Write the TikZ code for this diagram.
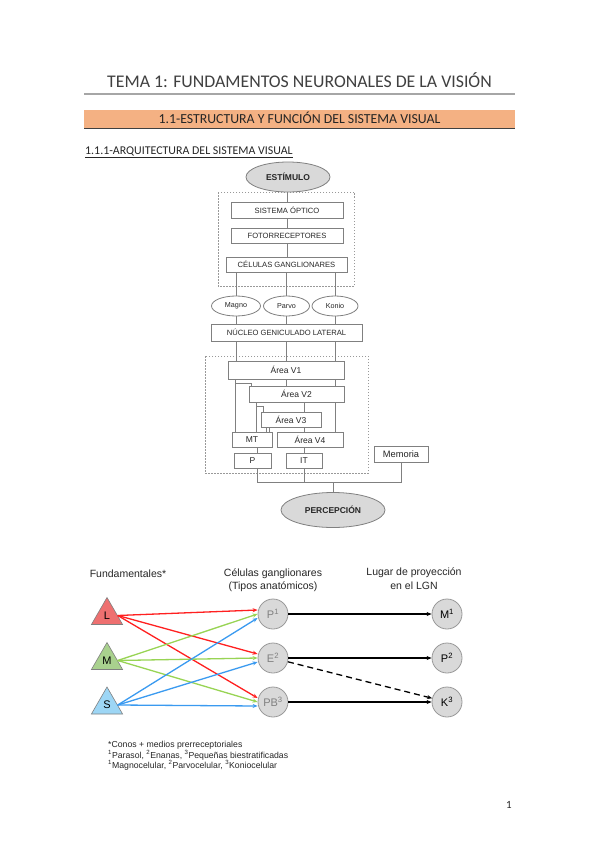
\documentclass[tikz,border=0pt]{standalone}
\usepackage{fontspec}
\setmainfont{Carlito}
\newfontfamily\arialfont{Liberation Sans}
\usepackage{tikz}
\usetikzlibrary{arrows.meta,positioning,shapes.geometric}
\definecolor{titlegray}{HTML}{404040}
\definecolor{rulegray}{HTML}{A6A6A6}
\definecolor{headorange}{HTML}{F4B183}
\definecolor{boxgray}{HTML}{808080}
\definecolor{ovalfill}{HTML}{D9D9D9}
\definecolor{inkgray}{HTML}{262626}
\definecolor{conered}{HTML}{FF2020}
\definecolor{conegreen}{HTML}{98D454}
\definecolor{coneblue}{HTML}{3A9AF0}
\definecolor{redfill}{HTML}{EE7070}
\definecolor{greenfill}{HTML}{A9D18E}
\definecolor{bluefill}{HTML}{9DD6F5}
\tikzset{stage/.style={rectangle,draw=boxgray,fill=white,line width=.8pt,
 inner sep=1pt,text=inkgray,font=\arialfont\fontsize{7.6}{8}\selectfont},
 area/.style={stage,font=\arialfont\fontsize{8.5}{10}\selectfont},
 pathway/.style={ellipse,draw=boxgray,fill=white,line width=.8pt,
 inner sep=0pt,minimum height=20pt,text=inkgray,font=\arialfont\fontsize{7.2}{8}\selectfont},
 endpoint/.style={ellipse,draw=boxgray,fill=ovalfill,line width=.8pt,
 inner sep=0pt,text=inkgray,font=\arialfont\bfseries\fontsize{8.5}{10}\selectfont},
 link/.style={draw=boxgray,line width=.7pt},
 region/.style={draw=boxgray!80,line width=.8pt,dash pattern=on 1.5pt off 1.5pt},
 cone/.style={regular polygon,regular polygon sides=3,minimum size=36pt,
 inner sep=0pt,draw=boxgray,line width=.6pt,text=black,font=\arialfont\fontsize{11}{12}\selectfont},
 cell/.style={circle,draw=boxgray!80,fill=ovalfill,line width=.8pt,minimum size=30pt,
 inner sep=0pt,text=boxgray,font=\arialfont\fontsize{11}{12}\selectfont},
 target/.style={cell,text=black},
 feed/.style={line width=1.3pt,-{Stealth[length=5pt,width=4pt]}},
 proj/.style={line width=1.3pt,black,-{Stealth[length=5pt,width=4pt]}},
 label/.style={text=inkgray,align=center,font=\arialfont\fontsize{10.5}{13.5}\selectfont}}

\begin{document}
\begin{tikzpicture}[x=1pt,y=-1pt]
 \useasboundingbox[fill=white] (0,0) rectangle (599,848);
 % page header
 \node[anchor=base,text=titlegray,font=\fontsize{17.8}{20}\selectfont] (title) at (299.5,88)
  {TEMA 1: FUNDAMENTOS NEURONALES DE LA VISIÓN};
 \draw[rulegray,line width=1.5pt] (84,94) -- (515,94);
 \fill[headorange] (84,110) rectangle (515,128);
 \draw[titlegray,line width=.6pt] (84,128) -- (515,128);
 \node[anchor=base,text=inkgray,font=\fontsize{13.8}{15}\selectfont] (section) at (299.5,123.3)
  {1.1-ESTRUCTURA Y FUNCIÓN DEL SISTEMA VISUAL};
 \node[anchor=base west,inner sep=0pt,text=inkgray,font=\fontsize{11.9}{13}\selectfont] (subsection) at (85,154.3)
  {\underline{1.1.1-ARQUITECTURA DEL SISTEMA VISUAL}};

 % flowchart
 \draw[region] (218,192) rectangle (354,286);
 \draw[region] (205,356) rectangle (368,473);
 \node[endpoint,minimum width=84pt,minimum height=30pt] (estimulo) at (288,177) {ESTÍMULO};
 \node[stage,minimum width=112pt,minimum height=16pt] (sisopt) at (287,210) {SISTEMA ÓPTICO};
 \node[stage,minimum width=112pt,minimum height=15pt] (fotor) at (287,235.5) {FOTORRECEPTORES};
 \node[stage,minimum width=121pt,minimum height=15pt] (celgang) at (286.5,264.5) {CÉLULAS GANGLIONARES};
 \node[pathway,minimum width=49pt] (magno) at (236,306) {Magno};
 \node[pathway,minimum width=46pt] (parvo) at (286.5,306) {Parvo};
 \node[pathway,minimum width=46pt] (konio) at (335,306) {Konio};
 \node[stage,minimum width=151pt,minimum height=17pt] (ngl) at (286.5,332.5) {NÚCLEO GENICULADO LATERAL};
 \node[area,minimum width=116pt,minimum height=18pt] (v1) at (286,370) {Área V1};
 \node[area,minimum width=95pt,minimum height=16pt] (v2) at (296.5,394) {Área V2};
 \node[area,minimum width=60pt,minimum height=15pt] (v3) at (291,419.5) {Área V3};
 \node[area,minimum width=40pt,minimum height=15pt] (mt) at (252,439.5) {MT};
 \node[area,minimum width=66pt,minimum height=15pt] (v4) at (310,439.5) {Área V4};
 \node[area,minimum width=37pt,minimum height=15pt] (p) at (252.5,460.5) {P};
 \node[area,minimum width=36pt,minimum height=15pt] (it) at (304,460.5) {IT};
 \node[area,minimum width=54pt,minimum height=16pt,font=\arialfont\fontsize{9.3}{10}\selectfont] (memoria) at (401,454) {Memoria};
 \node[endpoint,minimum width=104pt,minimum height=35pt] (percepcion) at (333,510) {PERCEPCIÓN};
 \coordinate (merge) at ([yshift=10pt]percepcion.north);

 \draw[link] (sisopt.north) -- (sisopt.north |- estimulo.south);
 \draw[link] (sisopt.south) -- (sisopt.south |- fotor.north);
 \draw[link] (fotor.south) -- (fotor.south |- celgang.north);
 \foreach \way in {magno,parvo,konio} {
  \draw[link] (celgang.south -| \way) -- (\way.north);
  \draw[link] (\way.south) -- (\way.south |- ngl.north);
  \draw[link] (ngl.south -| \way) -- (v1.north -| \way);
 }
 \draw[link] (v1.south -| parvo) -- (v2.north -| parvo);
 \draw[link] (v1.south -| konio) -- (v2.north -| konio);
 \draw[link] ([xshift=4pt]mt.north west |- v1.south) -- ([xshift=4pt]mt.north west);
 \draw[link] ([xshift=4pt,yshift=-4pt]mt.north west |- v1.south) -| ([xshift=3pt]v2.north west);
 \draw[link] ([xshift=8pt]v2.south west) -- ([xshift=8pt]v2.south west |- mt.north);
 \draw[link] ([xshift=8pt,yshift=-4pt]v2.south west) -| ([xshift=3pt]v3.north west);
 \draw[link] (v2.south -| it) -- (v3.north -| it);
 \draw[link] (v2.south -| konio) -- (v4.north -| konio);
 \draw[link] ([xshift=6pt]v3.south west) -- ([xshift=6pt]v3.south west |- mt.north);
 \draw[link] ([xshift=9pt]v3.south west) -- ([xshift=9pt]v3.south west |- mt.north);
 \draw[link] (v3.south -| it) -- (v4.north -| it);
 \draw[link] ([xshift=5pt]p.north) -- ([xshift=5pt]p.north |- mt.south);
 \draw[link] (it.north) -- (it.north |- v4.south);
 \draw[link] ([xshift=5pt]p.south) |- (merge) -| (memoria.south);
 \draw[link] (it.south) -- (it.south |- merge);
 \draw[link] (merge) -- (percepcion.north);

 % cones to ganglion cells to LGN
 \node[label] (fundlabel) at (128,573.5) {Fundamentales*};
 \node[label] (cglabel) at (273,580) {Células ganglionares\\(Tipos anatómicos)};
 \node[label] (lgnlabel) at (414,578.5) {Lugar de proyección\\en el LGN};
 \node[cone,fill=redfill] (L) at (107,615.5) {L};
 \node[cone,fill=greenfill] (M) at (107,660.5) {M};
 \node[cone,fill=bluefill] (S) at (107,705) {S};
 \node[cell] (pc) at (273,614) {P\textsuperscript{1}};
 \node[cell] (ec) at (273,658) {E\textsuperscript{2}};
 \node[cell] (pbc) at (273,702) {PB\textsuperscript{3}};
 \node[target] (mr) at (447,614) {M\textsuperscript{1}};
 \node[target] (pr) at (447,658) {P\textsuperscript{2}};
 \node[target] (kr) at (447,702) {K\textsuperscript{3}};
 \foreach \src/\col/\dy in {L/conered/4,M/conegreen/0,S/coneblue/-4}
  \foreach \dst in {pc,ec,pbc}
   \draw[feed,\col] (\src.east) -- ([yshift=\dy pt]\dst.west);
 \draw[proj] (pc) -- (mr);
 \draw[proj] (ec) -- (pr);
 \draw[proj] (pbc) -- (kr);
 \draw[proj,dash pattern=on 6pt off 4pt] (ec) -- (kr);
 \node[anchor=north west,inner sep=0pt,align=left,text=inkgray,
  font=\arialfont\fontsize{8.7}{10.5}\selectfont] (notes) at (108,741)
  {*Conos + medios prerreceptoriales\\
   \textsuperscript{1}Parasol, \textsuperscript{2}Enanas, \textsuperscript{3}Pequeñas biestratificadas\\
   \textsuperscript{1}Magnocelular, \textsuperscript{2}Parvocelular, \textsuperscript{3}Koniocelular};
 \node[text=inkgray,font=\fontsize{11}{13}\selectfont] (pagenum) at (509,805) {1};
\end{tikzpicture}
\end{document}
